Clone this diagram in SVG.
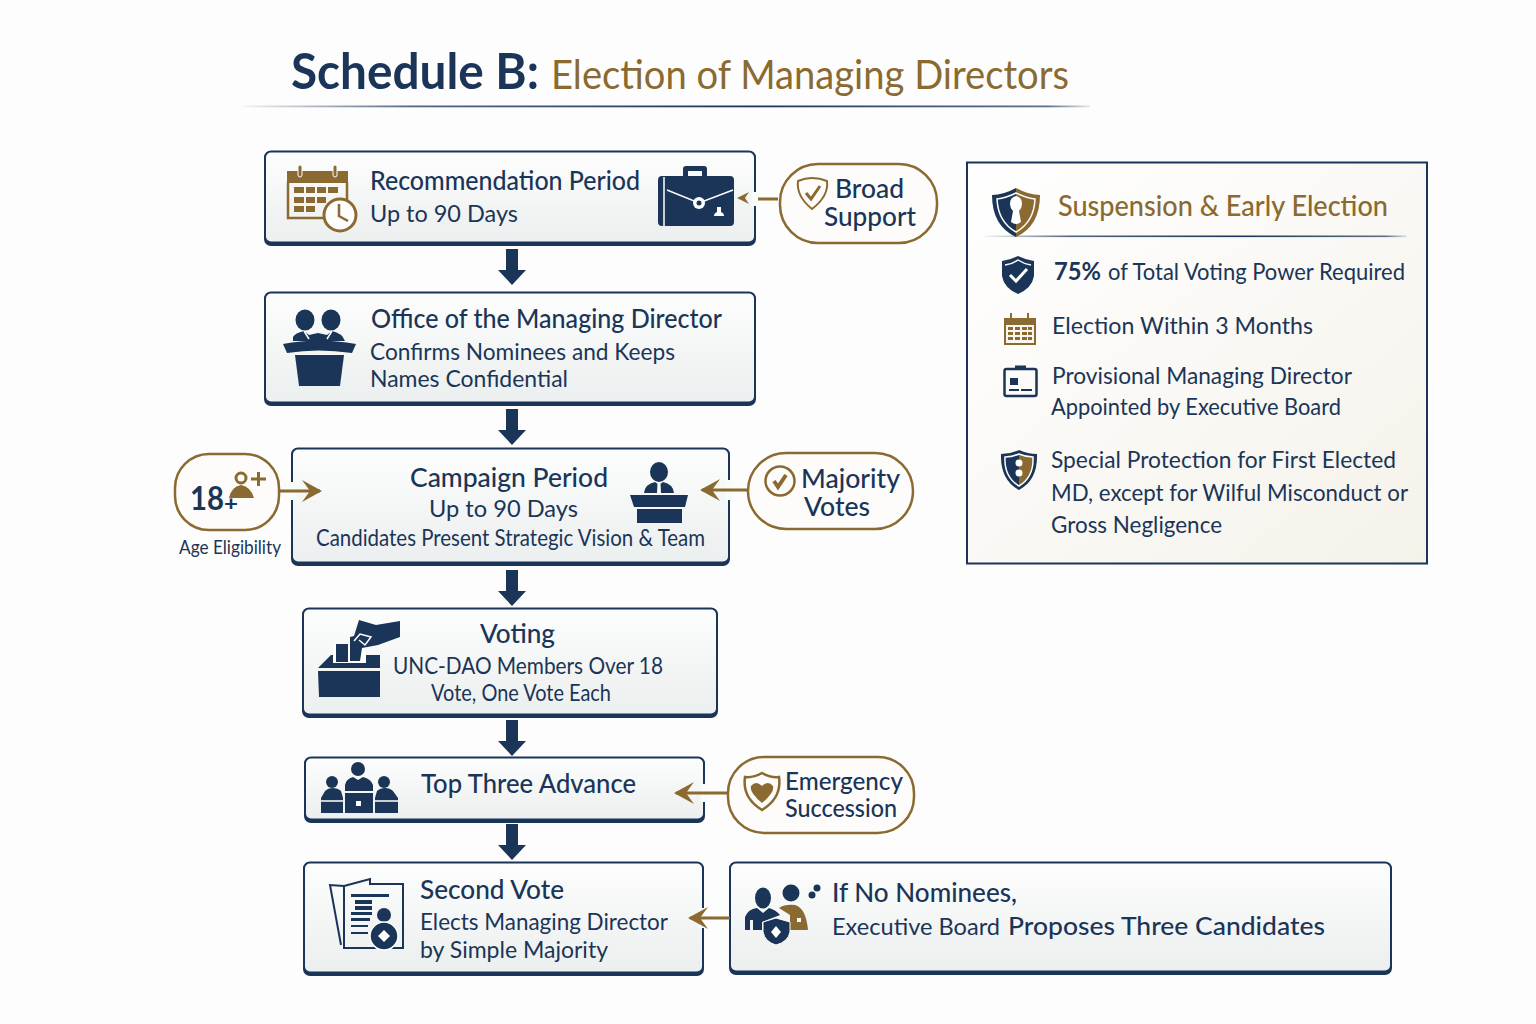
<svg xmlns="http://www.w3.org/2000/svg" width="1536" height="1024" viewBox="0 0 1536 1024">
<style>
text{font-family:"Lato","Noto Sans","Liberation Sans",sans-serif;fill:#1a3557}
.h{font-size:27px;font-weight:500}
.b{font-size:24px}
.s{font-size:23px}
.g{fill:#8a6a30}
.n{fill:#1a3557}
.a{fill:#8a6a30}
.w{fill:#fff}
.node{fill:url(#nodeFill);stroke:#1a3557;stroke-width:2}
.back{fill:#1a3557}
.pill{fill:#fdfcfa;stroke:#8a6a30;stroke-width:2.5}
.lk{fill:none;stroke:#8a6a30;stroke-width:3}
.gap{fill:none;stroke:#fafbfb;stroke-width:7}
.down{fill:#1a3557}
.ln{fill:none;stroke:#8a6a30;stroke-width:2.5}
.lw{fill:none;stroke:#fff;stroke-width:1.5}
.ln2{fill:none;stroke:#1a3557;stroke-width:2}
</style>
<defs>
<linearGradient id="nodeFill" x1="0" y1="0" x2="0" y2="1"><stop offset="0" stop-color="#fdfdfd"/><stop offset="1" stop-color="#ecefef"/></linearGradient>
<linearGradient id="panelFill" x1="0" y1="0" x2="1" y2="1"><stop offset="0" stop-color="#ffffff"/><stop offset="1" stop-color="#f5f2ea"/></linearGradient>
<linearGradient id="rule" x1="0" y1="0" x2="1" y2="0"><stop offset="0" stop-color="#1a3557" stop-opacity="0.05"/><stop offset=".2" stop-color="#1a3557" stop-opacity=".75"/><stop offset=".6" stop-color="#1a3557"/><stop offset=".95" stop-color="#1a3557" stop-opacity=".7"/><stop offset="1" stop-color="#1a3557" stop-opacity="0.1"/></linearGradient>
<linearGradient id="halfShield" x1="0" y1="0" x2="1" y2="0"><stop offset=".5" stop-color="#1a3557"/><stop offset=".5" stop-color="#8a6a30"/></linearGradient>
<path id="downArrow" d="M-6 0H6V21H14L0 36L-14 21H-6Z"/>
<marker id="head" viewBox="0 0 26 24" markerWidth="26" markerHeight="24" refX="22" refY="12" orient="auto" markerUnits="userSpaceOnUse"><path d="M4 1L24 12L4 23L12 12Z" fill="#8a6a30"/></marker>
</defs>
<rect width="1536" height="1024" fill="#fdfdfd"/>

<g id="title">
<text x="291" y="89" font-size="50" font-weight="700" textLength="248" lengthAdjust="spacingAndGlyphs">Schedule B:</text>
<text x="551" y="89" font-size="41" class="g" textLength="518" lengthAdjust="spacingAndGlyphs">Election of Managing Directors</text>
<rect x="243" y="105.500" width="847" height="1.800" fill="url(#rule)"/>
</g>

<g id="node-recommendation">
<rect class="back" x="264" y="151" width="492" height="95" rx="7"/>
<rect class="node" x="265" y="151.500" width="490" height="91" rx="6"/>
<text class="h" x="370" y="190" textLength="270" lengthAdjust="spacingAndGlyphs">Recommendation Period</text>
<text class="b" x="370" y="222" textLength="148" lengthAdjust="spacingAndGlyphs">Up to 90 Days</text>
<path class="ln" stroke-width="3" d="M288 182V218H326M347 182V200"/>
<path class="a" d="M287 171H348V183H287Z"/>
<rect x="298" y="165" width="4" height="12" rx="2" class="a" stroke="#fdfdfd"/><rect x="333" y="165" width="4" height="12" rx="2" class="a" stroke="#fdfdfd"/>
<path class="g" d="M294 187h10v6h-10zM306 187h9v6h-9zM317 187h9v6h-9zM328 187h10v6h-10zM294 197h10v6h-10zM306 197h9v6h-9zM317 197h9v6h-9zM294 206h10v6h-10zM306 206h9v6h-9z"/>
<circle cx="340" cy="215" r="16" fill="#fdfdfd" stroke="#8a6a30" stroke-width="3"/>
<path class="ln" d="M339 204V216L348 221"/>
<path class="n" d="M683 176V169Q683 166 686 166H704Q707 166 707 169V176H702V171H688V176Z"/>
<rect class="n" x="658" y="176" width="76" height="50" rx="4"/>
<path class="lw" d="M667 190L699 203L733 190M664 177V226"/>
<circle cx="699" cy="203" r="6" class="w"/><circle cx="699" cy="203" r="2.500" class="n"/>
<path class="w" d="M714 216Q714 213 717 212V207H721V212Q724 213 724 216Z"/>
</g>

<g id="node-office">
<rect class="back" x="264" y="292" width="492" height="114" rx="7"/>
<rect class="node" x="265" y="292.500" width="490" height="110" rx="6"/>
<text class="h" x="371" y="328" textLength="351" lengthAdjust="spacingAndGlyphs">Office of the Managing Director</text>
<text class="b" x="370" y="360" textLength="305" lengthAdjust="spacingAndGlyphs">Confirms Nominees and Keeps</text>
<text class="b" x="370" y="387" textLength="198" lengthAdjust="spacingAndGlyphs">Names Confidential</text>
<ellipse class="n" cx="305" cy="320" rx="9.500" ry="10.500"/><ellipse class="n" cx="331" cy="320" rx="9.500" ry="10.500"/>
<path class="n" d="M293 341V337Q295 333 304 331L309 335L318 333L327 335L332 331Q342 333 345 341Z"/>
<path class="lw" d="M304 331L309 339M332 331L327 339"/>
<path class="n" d="M283 344Q318 337 356 344L352 353Q318 348 287 353Z"/>
<path class="n" d="M295 355H344L340 386H299Z"/>
</g>

<g id="node-campaign">
<rect class="back" x="291" y="448" width="439" height="118" rx="7"/>
<rect class="node" x="292" y="448.500" width="437" height="114" rx="6"/>
<text class="h" x="410" y="487" textLength="198" lengthAdjust="spacingAndGlyphs">Campaign Period</text>
<text class="b" x="429" y="517" textLength="149" lengthAdjust="spacingAndGlyphs">Up to 90 Days</text>
<text class="s" x="316" y="546" textLength="389" lengthAdjust="spacingAndGlyphs">Candidates Present Strategic Vision &amp; Team</text>
<ellipse class="n" cx="659" cy="472" rx="9" ry="10"/>
<path class="n" d="M644 493Q645 484 655 482L659 485L663 482Q673 484 674 493Z"/>
<path class="w" d="M657.500 484H660.500L661 493H657Z"/>
<path class="n" d="M630 495H688L685 507H634Z"/>
<rect class="n" x="637" y="509" width="45" height="14"/>
</g>

<g id="node-voting">
<rect class="back" x="302" y="608" width="416" height="110" rx="7"/>
<rect class="node" x="303" y="608.500" width="414" height="106" rx="6"/>
<text class="h" x="480" y="643" textLength="75" lengthAdjust="spacingAndGlyphs">Voting</text>
<text class="s" x="393" y="674" textLength="270" lengthAdjust="spacingAndGlyphs">UNC-DAO Members Over 18</text>
<text class="s" x="431" y="701" textLength="180" lengthAdjust="spacingAndGlyphs">Vote, One Vote Each</text>
<path class="n" d="M318 668L331 655H380V668Z"/>
<path class="n" d="M318 671H380V697H319Z"/>
<rect class="w" x="333" y="645" width="33" height="18"/>
<rect class="n" x="336" y="644" width="12" height="18"/>
<path class="n" d="M350 661V637L354 636L359 620L376 625L400 621V637L378 645L362 648L360 661Z"/>
<path class="lw" d="M354 641L360 634L371 637L365 645L359 640" stroke-width="2"/>
</g>

<g id="node-top-three">
<rect class="back" x="304" y="757" width="401" height="66" rx="7"/>
<rect class="node" x="305" y="757.500" width="399" height="62" rx="6"/>
<text class="h" x="421" y="793" textLength="215" lengthAdjust="spacingAndGlyphs">Top Three Advance</text>
<circle class="n" cx="358" cy="769" r="7"/><circle class="n" cx="332" cy="782" r="6"/><circle class="n" cx="384" cy="782" r="6"/>
<path class="n" d="M345 791V785Q346 779 353 777L358 780L363 777Q371 779 373 785V791Z"/>
<path class="n" d="M345 793H373V813H345Z"/>
<path class="n" d="M321 813V798L325 791Q328 788 332 788Q338 788 341 791L343 798V813Z"/>
<path class="n" d="M375 813V798L377 791Q380 788 385 788Q390 788 393 791L398 798V813Z"/>
<rect class="w" x="356" y="801" width="5" height="5"/>
<path class="lw" d="M321 801H343M375 801H398"/>
</g>

<g id="node-second">
<rect class="back" x="303" y="862" width="401" height="114" rx="7"/>
<rect class="node" x="304" y="862.500" width="399" height="110" rx="6"/>
<text class="h" x="420" y="899" textLength="144" lengthAdjust="spacingAndGlyphs">Second Vote</text>
<text class="b" x="420" y="930" textLength="248" lengthAdjust="spacingAndGlyphs">Elects Managing Director</text>
<text class="b" x="420" y="958" textLength="188" lengthAdjust="spacingAndGlyphs">by Simple Majority</text>
<path class="ln2" d="M344 886L330 885L341 945"/>
<path class="ln2" d="M344 886L370 879V884H403V948H344V886"/>
<path class="n" d="M351 894H389V897H351ZM355 900H372V904H355ZM355 906H372V910H355ZM351 912H372V915H351ZM351 918H370V921H351ZM351 925H368V927H351ZM351 932H368V934H351Z"/>
<circle class="n" cx="384" cy="915" r="7"/>
<circle class="n" cx="384" cy="936" r="14" stroke="#fdfdfd" stroke-width="1.500"/>
<path class="w" d="M384 930L390 936L384 942L378 936Z"/>
</g>

<g id="node-no-nominees">
<rect class="back" x="729" y="862" width="663" height="113" rx="7"/>
<rect class="node" x="730" y="862.500" width="661" height="109" rx="6"/>
<text class="h" x="832" y="902" textLength="185" lengthAdjust="spacingAndGlyphs">If No Nominees,</text>
<text class="b" x="832" y="935"><tspan x="832" textLength="168" lengthAdjust="spacingAndGlyphs">Executive Board</tspan> <tspan x="1008" font-weight="500" font-size="25" textLength="317" lengthAdjust="spacingAndGlyphs">Proposes Three Candidates</tspan></text>
<ellipse class="n" cx="763" cy="898" rx="8" ry="10.500"/><circle class="n" cx="791" cy="893" r="8.500"/>
<circle class="n" cx="817" cy="888" r="3.500"/><circle class="n" cx="812" cy="895" r="3.500"/>
<path class="a" d="M779 908Q785 904 795 905Q806 908 808 930H790V915Z"/>
<path class="n" d="M745 930V917Q748 909 757 908L763 913L769 908Q776 910 780 915L762 922V930H753V920H750V930Z"/>
<rect class="w" x="797" y="918" width="4" height="4"/>
<path class="n" d="M763 922L776 918L790 922V932Q788 942 776 945Q765 942 763 932Z" stroke="#fdfdfd" stroke-width="1"/>
<path class="w" d="M776 926L781 932L776 938L771 932Z"/>
</g>

<g id="pill-broad-support">
<rect class="pill" x="780" y="164" width="157" height="79" rx="38"/>
<path fill="none" stroke="#8a6a30" stroke-width="2" d="M812 178Q820 178 827 181Q829 196 812 209Q796 196 798 181Q805 178 812 178Z"/>
<path fill="none" stroke="#8a6a30" stroke-width="3" d="M806 193L811 199L820 186"/>
<text class="h" x="835" y="198" textLength="69" lengthAdjust="spacingAndGlyphs">Broad</text>
<text class="h" x="824" y="226" textLength="92" lengthAdjust="spacingAndGlyphs">Support</text>
</g>

<g id="pill-majority-votes">
<rect class="pill" x="748" y="453" width="165" height="76" rx="38"/>
<circle cx="780" cy="481" r="14.500" fill="none" stroke="#8a6a30" stroke-width="2.500"/>
<path fill="none" stroke="#8a6a30" stroke-width="4" d="M774 481L778 487L786 475"/>
<text class="h" x="801" y="488" textLength="99" lengthAdjust="spacingAndGlyphs">Majority</text>
<text class="h" x="804" y="516" textLength="66" lengthAdjust="spacingAndGlyphs">Votes</text>
</g>

<g id="pill-age">
<rect class="pill" x="175" y="454" width="104" height="76" rx="34"/>
<text x="190" y="510" font-size="33" font-weight="700"><tspan textLength="34" lengthAdjust="spacingAndGlyphs">18</tspan><tspan font-size="21" dy="1" x="224" textLength="14" lengthAdjust="spacingAndGlyphs">+</tspan></text>
<circle cx="241" cy="478" r="5" fill="none" stroke="#8a6a30" stroke-width="3"/>
<path class="a" d="M229 498Q231 487 241 485Q251 487 254 498Z"/>
<path fill="none" stroke="#8a6a30" stroke-width="3" d="M251 479H266M258.500 472V486"/>
<text x="179" y="554" font-size="19" textLength="102" lengthAdjust="spacingAndGlyphs">Age Eligibility</text>
</g>

<g id="pill-emergency">
<rect class="pill" x="728" y="757" width="186" height="76" rx="36"/>
<path fill="none" stroke="#8a6a30" stroke-width="2.500" d="M762 773Q771 778 779 777Q782 798 762 810Q742 798 745 777Q753 778 762 773Z"/>
<path class="a" d="M762 803Q749 792 751 786Q756 780 762 786Q768 780 773 786Q775 792 762 803Z"/>
<text x="785" y="790" font-size="25" font-weight="500" textLength="118" lengthAdjust="spacingAndGlyphs">Emergency</text>
<text x="785" y="817" font-size="25" font-weight="500" textLength="112" lengthAdjust="spacingAndGlyphs">Succession</text>
</g>

<g id="panel-suspension">
<rect x="967" y="162.500" width="460" height="401" fill="url(#panelFill)" stroke="#1a3557" stroke-width="2"/>
<path d="M1016 188Q1003 195 992 195Q992 226 1016 237Q1040 226 1040 195Q1029 195 1016 188Z" fill="url(#halfShield)"/>
<path fill="none" stroke="#fdfdfd" stroke-width="1.500" d="M1016 193Q1006 198 997 199Q998 222 1016 232Q1034 222 1035 199Q1026 198 1016 193Z"/>
<path class="w" d="M1016 196Q1022 197 1022 204Q1022 208 1019 211L1021 222Q1016 226 1011 222L1013 211Q1010 208 1010 204Q1010 197 1016 196Z"/>
<text x="1058" y="216" font-size="28" font-weight="500" class="g" textLength="330" lengthAdjust="spacingAndGlyphs">Suspension &amp; Early Election</text>
<rect x="985" y="235.500" width="422" height="1.600" fill="url(#rule)"/>

<path class="n" d="M1018 256Q1026 260 1034 261V276Q1032 288 1018 294Q1004 288 1002 276V261Q1010 260 1018 256Z"/>
<path class="lw" d="M1005 265Q1012 264 1018 260Q1024 264 1031 265"/>
<path fill="none" stroke="#fff" stroke-width="3" d="M1010 275L1016 281L1027 269"/>
<text class="b" x="1054" y="280"><tspan x="1054" font-weight="700" textLength="47" lengthAdjust="spacingAndGlyphs">75%</tspan> <tspan x="1108" textLength="297" lengthAdjust="spacingAndGlyphs">of Total Voting Power Required</tspan></text>

<path class="a" d="M1004 318H1010V313H1012V318H1027V313H1029V318H1036V345H1004Z"/>
<rect x="1006" y="325" width="28" height="18" fill="#f8f6f0"/>
<path class="g" d="M1008 327h5v3h-5zM1015 327h5v3h-5zM1022 327h5v3h-5zM1028 327h4v3h-4zM1008 332h5v3h-5zM1015 332h5v3h-5zM1022 332h5v3h-5zM1028 332h4v3h-4zM1008 337h5v3h-5zM1015 337h5v3h-5zM1022 337h5v3h-5zM1028 337h4v3h-4z"/>
<text class="b" x="1052" y="334" textLength="261" lengthAdjust="spacingAndGlyphs">Election Within 3 Months</text>

<rect x="1004.500" y="369" width="32" height="27" rx="2" fill="none" stroke="#1a3557" stroke-width="2.500"/>
<path class="n" d="M1015 369V365.500H1026V369ZM1010 378H1018V385H1010ZM1009 389H1019V391H1009ZM1021 389H1032V391H1021Z"/>
<text class="b" x="1052" y="384" textLength="300" lengthAdjust="spacingAndGlyphs">Provisional Managing Director</text>
<text class="b" x="1051" y="415" textLength="290" lengthAdjust="spacingAndGlyphs">Appointed by Executive Board</text>

<path d="M1019 450Q1028 454 1037 454Q1038 480 1019 490Q1000 480 1001 454Q1010 454 1019 450Z" fill="#1a3557"/>
<path d="M1019 454Q1026 457 1033 457Q1034 477 1019 486Q1004 477 1005 457Q1012 457 1019 454Z" fill="url(#halfShield)" stroke="#fdfdfd" stroke-width="1.500"/>
<circle class="w" cx="1019" cy="463" r="3.500"/><circle class="w" cx="1019" cy="473" r="3.500"/>
<text class="b" x="1051" y="468" textLength="345" lengthAdjust="spacingAndGlyphs">Special Protection for First Elected</text>
<text class="b" x="1051" y="501" textLength="357" lengthAdjust="spacingAndGlyphs">MD, except for Wilful Misconduct or</text>
<text class="b" x="1051" y="533" textLength="171" lengthAdjust="spacingAndGlyphs">Gross Negligence</text>
</g>

<g id="connectors">
<use href="#downArrow" class="down" x="512" y="249"/>
<use href="#downArrow" class="down" x="512" y="409"/>
<use href="#downArrow" class="down" x="512" y="570"/>
<use href="#downArrow" class="down" x="512" y="720"/>
<use href="#downArrow" class="down" x="512" y="824"/>
<path class="gap" d="M755 192V206M292 482V500M729 480V500M704 784V802M703 908V928"/>
<path class="lk" d="M778 199H758"/>
<path d="M749 192L737 198L749 204L745 198Z" class="a"/>
<path class="lk" d="M279 491H320" marker-end="url(#head)"/>
<path class="lk" d="M747 490H702" marker-end="url(#head)"/>
<path class="lk" d="M728 793H676" marker-end="url(#head)"/>
<path class="lk" d="M730 918H690" marker-end="url(#head)"/>
</g>
</svg>
